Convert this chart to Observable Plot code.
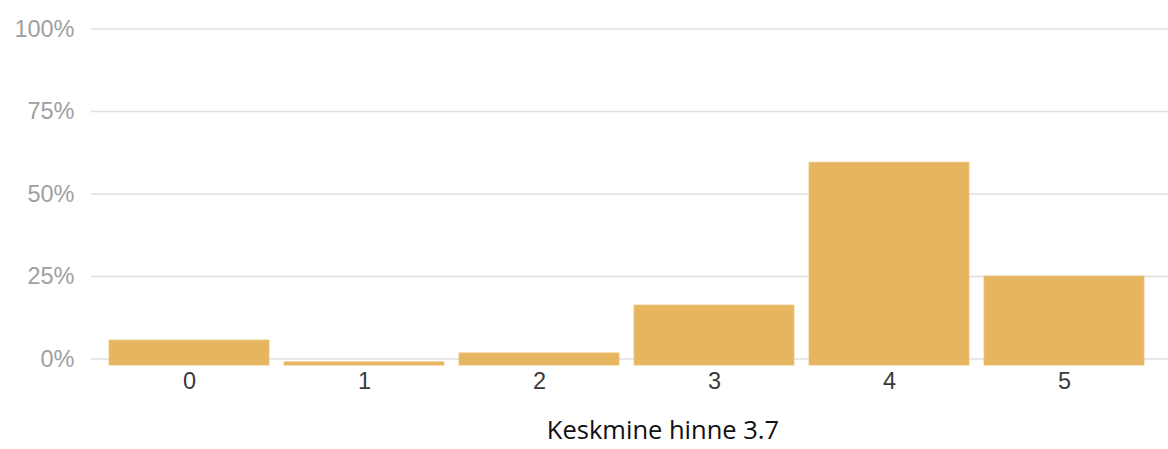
<!DOCTYPE html>
<html>
<head>
<meta charset="utf-8">
<script src="https://cdn.jsdelivr.net/npm/d3@7"></script>
<script src="https://cdn.jsdelivr.net/npm/@observablehq/plot@0.6"></script>
<style>
  html, body { margin: 0; padding: 0; background: #fff; }
  #chart svg { display: block; }
  #caption {
    width: 1168px; box-sizing: border-box; padding-left: 158px;
    text-align: center; font-family: "Open Sans", "Liberation Sans", sans-serif;
    font-size: 25.5px; color: #111; line-height: 39px; height: 39px;
  }
</style>
</head>
<body>
<div id="chart"></div>
<div id="caption"></div>
<script>
const categories = ["0", "1", "2", "3", "4", "5"];
// top of each bar, in percent
const values = [5.6, -1.0, 1.7, 16.2, 59.5, 25.0];
const yTicks = [0, 25, 50, 75, 100];
const baseline = -2;
const captionText = "Keskmine hinne 3.7";

const data = categories.map((c, i) => ({cat: c, v: values[i]}));

const chart = Plot.plot({
  width: 1168,
  height: 410,
  marginLeft: 91,
  marginRight: 0,
  marginTop: 20,
  marginBottom: 45,
  style: {fontFamily: "'Liberation Sans', Arial, sans-serif", background: "#fff"},
  x: {domain: categories, range: [91, 1161], padding: 0.086, label: null},
  y: {domain: [0, 100], range: [358.5, 28.5], label: null},
  marks: [
    Plot.ruleY(yTicks, {stroke: "#e0e0e0", strokeWidth: 1.6}),
    Plot.barY(data, {x: "cat", y1: baseline, y2: "v", fill: "#E6B55F", stroke: "#EDC47A", strokeWidth: 0.8, inset: 0}),
    Plot.axisY({ticks: yTicks, tickSize: 0, tickPadding: 17, tickFormat: d => d + "%", fontSize: 23.5, fill: "#a0a0a0", label: null}),
    Plot.axisX({tickSize: 0, tickPadding: 7, fontSize: 23.5, fill: "#3a3a3a", label: null})
  ]
});
document.getElementById("chart").appendChild(chart);
document.getElementById("caption").textContent = captionText;
</script>
</body>
</html>
